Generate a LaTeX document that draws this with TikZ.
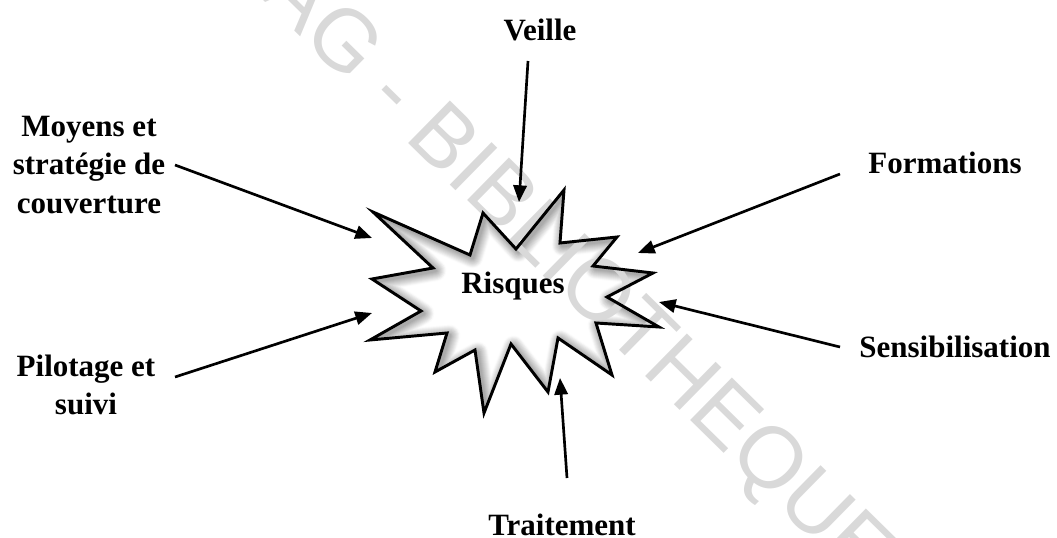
\documentclass[tikz,border=0pt]{standalone}
\usepackage{fontspec}
\setmainfont{Liberation Serif}
\newfontfamily\wmfont{Liberation Sans}
\usetikzlibrary{arrows.meta}
\begin{document}
\begin{tikzpicture}[x=0.75pt,y=-0.75pt,
  lbl/.style={font=\bfseries\fontsize{23.25}{29}\selectfont, inner sep=0pt, align=center},
  arr/.style={line width=2pt, -{Triangle[length=12.5pt,width=10pt]}},
  wm/.style={font=\wmfont\fontsize{65}{65}\selectfont, text=black!15, inner sep=0pt},
  starp/.style={insert path={(373,212) -- (470,255) -- (483,213) -- (516,249) -- (564,190) -- (560,243)
     -- (617,237) -- (593,266) -- (653,273) -- (607,297) -- (659,327) -- (596,323)
     -- (612,375) -- (558,338) -- (548,392) -- (511,344) -- (484,413) -- (475,350)
     -- (435,372) -- (447,333) -- (370,340) -- (421,311) -- (372,279) -- (433,268) -- cycle}}
]
\useasboundingbox (0,0) rectangle (1057,538);
% star with inner shadow
\begin{scope}
  \clip[starp];
  \fill[white, starp];
  \foreach \i in {0,...,9} {
    \pgfmathsetmacro\w{16-1.5*\i}
    \pgfmathsetmacro\c{1.5+3.5*\i}
    \draw[line width=\w pt, black!\c, line join=round, shift={(2.5,2.5)}, starp];
  }
\end{scope}
% watermark
\node[wm, rotate=-44.5] (wmark) at (512,214) {CESAG - BIBLIOTHEQUE};
% star outline
\draw[line width=2.2pt, line join=miter, starp];
% labels
\node[lbl, anchor=base] (risq) at (513,294) {Risques};
\node[lbl, anchor=base] (veille) at (540,41) {Veille};
\node[lbl] (moyens) at (89,165) {Moyens et\\stratégie de\\couverture};
\node[lbl] (pilot) at (86,385) {Pilotage et\\suivi};
\node[lbl, anchor=base] (form) at (945,174) {Formations};
\node[lbl, anchor=base] (sens) at (955,358) {Sensibilisation};
\node[lbl, anchor=base] (trait) at (562,535) {Traitement};
% arrow ends
\coordinate (vs) at (528,61);  \coordinate (vt) at (519,202);
\coordinate (ms) at (175,165); \coordinate (mt) at (372,238);
\coordinate (ps) at (175,377); \coordinate (pt) at (372,313);
\coordinate (fs) at (840,174); \coordinate (ft) at (638,253);
\coordinate (ss) at (840,347); \coordinate (st) at (659,302);
\coordinate (ts) at (567,478); \coordinate (tt) at (560,378);
\draw[arr] (vs) -- (vt);
\draw[arr] (ms) -- (mt);
\draw[arr] (ps) -- (pt);
\draw[arr] (fs) -- (ft);
\draw[arr] (ss) -- (st);
\draw[arr] (ts) -- (tt);
\end{tikzpicture}
\end{document}
